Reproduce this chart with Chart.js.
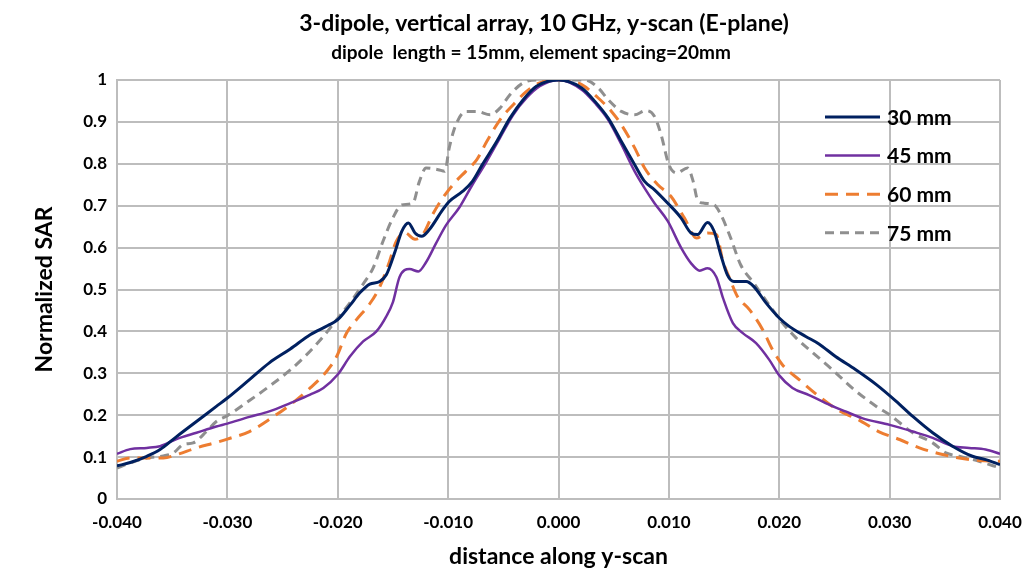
<!DOCTYPE html>
<html>
<head>
<meta charset="utf-8">
<title>3-dipole vertical array - SAR y-scan</title>
<script src="https://cdn.jsdelivr.net/npm/chart.js@4.4.1/dist/chart.umd.min.js"></script>
<style>
  html, body { margin: 0; padding: 0; background: #fff; }
</style>
</head>
<body>
<canvas id="sarChart" width="1036" height="575"></canvas>
<script>
/* ============================================================
   Data: scan position (m) and normalized SAR per distance
   ============================================================ */
const x30 = [-0.0400, -0.0388, -0.0373, -0.0361, -0.0346, -0.0328, -0.0310, -0.0300, -0.0280, -0.0262,
  -0.0243, -0.0225, -0.0209, -0.0200, -0.0189, -0.0180, -0.0171, -0.0162, -0.0156, -0.0148,
  -0.0142, -0.0136, -0.0130, -0.0124, -0.0117, -0.0105, -0.0099, -0.0087, -0.0078, -0.0069,
  -0.0056, -0.0044, -0.0032, -0.0020, 0.0000, 0.0021, 0.0033, 0.0045, 0.0057, 0.0069,
  0.0078, 0.0087, 0.0099, 0.0111, 0.0120, 0.0126, 0.0135, 0.0141, 0.0147, 0.0153,
  0.0159, 0.0170, 0.0177, 0.0188, 0.0200, 0.0209, 0.0224, 0.0236, 0.0251, 0.0269,
  0.0288, 0.0306, 0.0321, 0.0339, 0.0357, 0.0375, 0.0387, 0.0400];
const sar30 = [0.079, 0.087, 0.102, 0.118, 0.149, 0.185, 0.221, 0.241, 0.285, 0.325,
  0.358, 0.392, 0.414, 0.428, 0.462, 0.492, 0.513, 0.519, 0.535, 0.591,
  0.639, 0.659, 0.635, 0.627, 0.643, 0.690, 0.710, 0.734, 0.758, 0.798,
  0.853, 0.909, 0.953, 0.985, 1.000, 0.981, 0.949, 0.909, 0.853, 0.798,
  0.758, 0.738, 0.706, 0.671, 0.635, 0.631, 0.660, 0.639, 0.583, 0.535,
  0.519, 0.519, 0.507, 0.468, 0.432, 0.412, 0.388, 0.370, 0.340, 0.309,
  0.273, 0.233, 0.197, 0.158, 0.126, 0.102, 0.094, 0.082];

const x45 = [-0.0400, -0.0388, -0.0373, -0.0361, -0.0346, -0.0328, -0.0310, -0.0300, -0.0280, -0.0262,
  -0.0243, -0.0225, -0.0213, -0.0200, -0.0189, -0.0177, -0.0165, -0.0156, -0.0150, -0.0144,
  -0.0135, -0.0127, -0.0120, -0.0111, -0.0102, -0.0090, -0.0078, -0.0065, -0.0053, -0.0041,
  -0.0029, -0.0017, 0.0000, 0.0021, 0.0033, 0.0045, 0.0057, 0.0069, 0.0078, 0.0087,
  0.0099, 0.0111, 0.0120, 0.0128, 0.0135, 0.0143, 0.0149, 0.0158, 0.0167, 0.0179,
  0.0191, 0.0200, 0.0212, 0.0227, 0.0242, 0.0260, 0.0275, 0.0300, 0.0321, 0.0339,
  0.0357, 0.0372, 0.0387, 0.0400];
const sar45 = [0.108, 0.119, 0.122, 0.126, 0.143, 0.158, 0.173, 0.180, 0.196, 0.209,
  0.229, 0.249, 0.265, 0.297, 0.340, 0.376, 0.400, 0.436, 0.470, 0.530,
  0.549, 0.543, 0.565, 0.610, 0.653, 0.695, 0.750, 0.806, 0.862, 0.917,
  0.957, 0.985, 1.000, 0.977, 0.945, 0.905, 0.846, 0.782, 0.742, 0.706,
  0.663, 0.600, 0.563, 0.545, 0.551, 0.530, 0.480, 0.420, 0.396, 0.372,
  0.332, 0.295, 0.265, 0.248, 0.229, 0.209, 0.193, 0.177, 0.161, 0.146,
  0.126, 0.122, 0.118, 0.108];

const x60 = [-0.0400, -0.0388, -0.0373, -0.0358, -0.0346, -0.0328, -0.0310, -0.0300, -0.0280, -0.0262,
  -0.0243, -0.0225, -0.0210, -0.0201, -0.0192, -0.0183, -0.0171, -0.0162, -0.0154, -0.0147,
  -0.0139, -0.0130, -0.0123, -0.0114, -0.0105, -0.0093, -0.0084, -0.0074, -0.0065, -0.0053,
  -0.0041, -0.0029, -0.0017, 0.0000, 0.0008, 0.0021, 0.0036, 0.0048, 0.0057, 0.0069,
  0.0078, 0.0090, 0.0102, 0.0114, 0.0125, 0.0135, 0.0143, 0.0149, 0.0155, 0.0162,
  0.0173, 0.0185, 0.0194, 0.0203, 0.0218, 0.0236, 0.0254, 0.0272, 0.0290, 0.0309,
  0.0327, 0.0345, 0.0363, 0.0381, 0.0400];
const sar60 = [0.090, 0.098, 0.098, 0.098, 0.106, 0.122, 0.135, 0.143, 0.161, 0.190,
  0.225, 0.265, 0.305, 0.340, 0.396, 0.428, 0.466, 0.506, 0.560, 0.615,
  0.635, 0.620, 0.631, 0.679, 0.718, 0.758, 0.782, 0.810, 0.853, 0.905,
  0.941, 0.973, 0.993, 1.000, 0.998, 0.989, 0.957, 0.925, 0.893, 0.838,
  0.790, 0.750, 0.722, 0.671, 0.623, 0.635, 0.631, 0.567, 0.527, 0.484,
  0.452, 0.404, 0.356, 0.320, 0.285, 0.245, 0.211, 0.189, 0.161, 0.142,
  0.122, 0.108, 0.098, 0.092, 0.090];

const x75 = [-0.0400, -0.0388, -0.0373, -0.0358, -0.0349, -0.0340, -0.0331, -0.0319, -0.0310, -0.0300,
  -0.0280, -0.0262, -0.0243, -0.0231, -0.0213, -0.0201, -0.0189, -0.0177, -0.0168, -0.0159,
  -0.0150, -0.0142, -0.0132, -0.0126, -0.0120, -0.0109, -0.0103, -0.0099, -0.0093, -0.0084,
  -0.0074, -0.0062, -0.0053, -0.0044, -0.0032, -0.0020, 0.0000, 0.0024, 0.0036, 0.0045,
  0.0057, 0.0069, 0.0079, 0.0087, 0.0093, 0.0100, 0.0107, 0.0117, 0.0122, 0.0126,
  0.0132, 0.0141, 0.0147, 0.0156, 0.0165, 0.0177, 0.0189, 0.0203, 0.0215, 0.0230,
  0.0248, 0.0266, 0.0288, 0.0300, 0.0321, 0.0339, 0.0351, 0.0363, 0.0381, 0.0400];
const sar75 = [0.074, 0.086, 0.098, 0.103, 0.110, 0.130, 0.134, 0.161, 0.185, 0.199,
  0.235, 0.269, 0.308, 0.337, 0.388, 0.428, 0.468, 0.513, 0.551, 0.615,
  0.671, 0.702, 0.706, 0.758, 0.790, 0.786, 0.782, 0.838, 0.893, 0.925,
  0.925, 0.917, 0.933, 0.965, 0.993, 1.000, 1.000, 1.000, 0.981, 0.953,
  0.925, 0.917, 0.927, 0.913, 0.869, 0.798, 0.778, 0.790, 0.758, 0.714,
  0.706, 0.702, 0.679, 0.623, 0.559, 0.515, 0.470, 0.420, 0.385, 0.350,
  0.309, 0.265, 0.221, 0.201, 0.158, 0.134, 0.110, 0.102, 0.090, 0.074];

const seriesLabels = ['30 mm', '45 mm', '60 mm', '75 mm'];
const xAxisRange = [-0.040, 0.040];
const xTickStep = 0.010;
const yAxisRange = [0, 1];
const yTickStep = 0.1;

const chartTitle = '3-dipole, vertical array, 10 GHz, y-scan (E-plane)';
const chartSubtitle = 'dipole  length = 15mm, element spacing=20mm';

/* ============================================================
   Styling
   ============================================================ */
const FONT = "Lato, 'Noto Sans', sans-serif";
const gridColor = '#BDBDBD';

const pair = (xs, ys) => xs.map((x, i) => ({ x: x, y: ys[i] }));

// two-line heading above the plot
const heading = {
  id: 'heading',
  afterDraw(chart) {
    const { ctx } = chart;
    ctx.save();
    ctx.fillStyle = '#000';
    ctx.textAlign = 'center';
    ctx.textBaseline = 'middle';
    ctx.font = 'bold 23px ' + FONT;
    ctx.fillText(chartTitle, 544, 24);
    ctx.font = 'bold 19px ' + FONT;
    ctx.fillText(chartSubtitle, 531, 53);
    ctx.restore();
  }
};

// legend drawn inside the plot, upper right
const insideLegend = {
  id: 'insideLegend',
  afterDatasetsDraw(chart) {
    const { ctx, chartArea } = chart;
    const x0 = chartArea.right - 175;
    ctx.save();
    chart.data.datasets.forEach((ds, i) => {
      const y = chartArea.top + 37 + i * 38.6;
      ctx.beginPath();
      ctx.strokeStyle = ds.borderColor;
      ctx.lineWidth = ds.borderWidth;
      ctx.setLineDash(ds.borderDash || []);
      ctx.moveTo(x0, y);
      ctx.lineTo(x0 + 55, y);
      ctx.stroke();
      ctx.setLineDash([]);
      ctx.fillStyle = '#000';
      ctx.font = 'bold 21px ' + FONT;
      ctx.textBaseline = 'middle';
      ctx.fillText(ds.label, x0 + 62, y + 1);
    });
    ctx.restore();
  }
};

new Chart(document.getElementById('sarChart'), {
  type: 'line',
  data: {
    datasets: [
      { label: seriesLabels[0], data: pair(x30, sar30), borderColor: '#002060', borderWidth: 3 },
      { label: seriesLabels[1], data: pair(x45, sar45), borderColor: '#7030A0', borderWidth: 2.5 },
      { label: seriesLabels[2], data: pair(x60, sar60), borderColor: '#ED7D31', borderWidth: 3, borderDash: [13, 8] },
      { label: seriesLabels[3], data: pair(x75, sar75), borderColor: '#8F8F8F', borderWidth: 3, borderDash: [9, 6] }
    ]
  },
  options: {
    responsive: false,
    animation: false,
    layout: { padding: { left: 0, right: 36, top: 80, bottom: 0 } },
    elements: {
      point: { radius: 0 },
      line: { cubicInterpolationMode: 'monotone', fill: false }
    },
    plugins: {
      legend: { display: false },
      tooltip: { enabled: false },
      title: { display: false }
    },
    scales: {
      x: {
        type: 'linear',
        min: xAxisRange[0],
        max: xAxisRange[1],
        grid: { color: gridColor, lineWidth: 2, drawTicks: false },
        border: { color: gridColor, width: 2 },
        ticks: {
          stepSize: xTickStep,
          maxRotation: 0,
          padding: 13,
          color: '#000',
          font: { family: FONT, size: 17, weight: 'bold' },
          callback: v => (Math.abs(v) < 1e-9 ? 0 : v).toFixed(3)
        },
        title: {
          display: true,
          text: 'distance along y-scan',
          color: '#000',
          font: { family: FONT, size: 23, weight: 'bold' },
          padding: { top: 0, bottom: 4.2 }
        },
        afterFit: s => { s.height = 76; }
      },
      y: {
        min: yAxisRange[0],
        max: yAxisRange[1],
        grid: { color: gridColor, lineWidth: 2, drawTicks: false },
        border: { color: gridColor, width: 2 },
        ticks: {
          stepSize: yTickStep,
          padding: 10,
          color: '#000',
          font: { family: FONT, size: 17, weight: 'bold' },
          callback: v => {
            const r = Math.round(v * 10) / 10;
            return (r === 0 || r === 1) ? String(r) : r.toFixed(1);
          }
        },
        title: {
          display: true,
          text: 'Normalized SAR',
          color: '#000',
          font: { family: FONT, size: 23, weight: 'bold' },
          padding: { top: 31, bottom: 0 }
        },
        afterFit: s => { s.width = 117; }
      }
    }
  },
  plugins: [heading, insideLegend]
});
</script>
</body>
</html>
